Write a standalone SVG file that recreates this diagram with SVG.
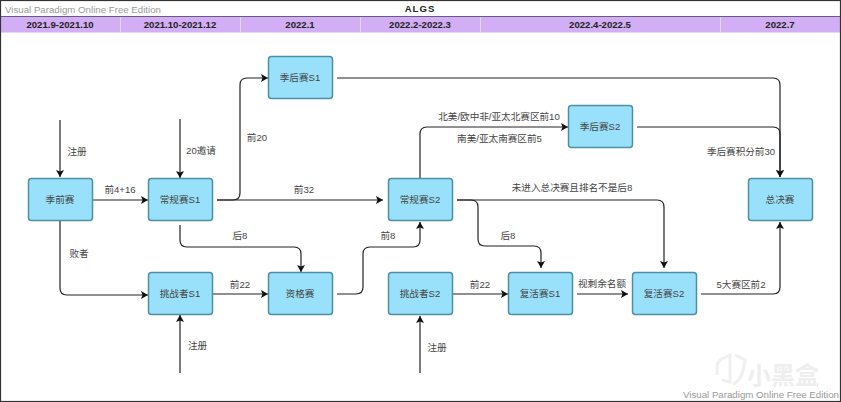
<svg xmlns="http://www.w3.org/2000/svg" width="841" height="402" viewBox="0 0 841 402">
<style>
text{font-family:"Liberation Sans","Noto Sans CJK SC",sans-serif;font-size:9.6px;fill:#444;text-anchor:middle}
.h{font-weight:bold;fill:#222}
.wm{fill:#999;text-anchor:start;font-size:9.7px}
.n{fill:#99e1fa;stroke:#4f8ea6;stroke-width:1.5}
.c{fill:none;stroke:#222;stroke-width:1.2}
.d{stroke:#e6d6fa;stroke-width:1}
</style>
<defs>
<marker id="a" markerWidth="8" markerHeight="8" refX="7" refY="4" orient="auto" markerUnits="userSpaceOnUse"><path d="M0 0L7 4L0 8L1.500 4Z" fill="#111"/></marker>
</defs>
<rect width="841" height="402" fill="#fff"/>
<g id="header">
<rect x="0" y="16.500" width="841" height="16" fill="#d2aef5"/>
<line x1="0" y1="16.500" x2="841" y2="16.500" stroke="#6a5a80" stroke-width="1"/>
<line class="d" x1="120.500" y1="17" x2="120.500" y2="32"/>
<line class="d" x1="240.500" y1="17" x2="240.500" y2="32"/>
<line class="d" x1="360.500" y1="17" x2="360.500" y2="32"/>
<line class="d" x1="480.500" y1="17" x2="480.500" y2="32"/>
<line class="d" x1="720.500" y1="17" x2="720.500" y2="32"/>
<text class="h" x="420" y="11.500" letter-spacing="1">ALGS</text>
<text class="h" x="60" y="27.500">2021.9-2021.10</text>
<text class="h" x="180" y="27.500">2021.10-2021.12</text>
<text class="h" x="300" y="27.500">2022.1</text>
<text class="h" x="420" y="27.500">2022.2-2022.3</text>
<text class="h" x="600" y="27.500">2022.4-2022.5</text>
<text class="h" x="780" y="27.500">2022.7</text>
<text class="wm" x="5" y="13">Visual Paradigm Online Free Edition</text>
</g>
<g id="connectors">
<path class="c" marker-end="url(#a)" d="M60 120V177"/>
<path class="c" marker-end="url(#a)" d="M180 119V178"/>
<path class="c" marker-end="url(#a)" d="M93 200H148"/>
<path class="c" marker-end="url(#a)" d="M217 200H233Q240 200 240 193V85Q240 78 247 78H268"/>
<path class="c" marker-end="url(#a)" d="M217 200H383"/>
<path class="c" marker-end="url(#a)" d="M337 78H773Q780 78 780 85V177"/>
<path class="c" marker-end="url(#a)" d="M637 127H773Q780 127 780 134V177"/>
<path class="c" marker-end="url(#a)" d="M420 178V134Q420 127 427 127H568"/>
<path class="c" marker-end="url(#a)" d="M180 225V240Q180 247 187 247H294Q301 247 301 254V272"/>
<path class="c" marker-end="url(#a)" d="M60 221V288Q60 295 67 295H148"/>
<path class="c" marker-end="url(#a)" d="M213 294H268"/>
<path class="c" marker-end="url(#a)" d="M180 373V315"/>
<path class="c" marker-end="url(#a)" d="M337 294H356Q363 294 363 287V254Q363 247 370 247H413Q420 247 420 240V222"/>
<path class="c" marker-end="url(#a)" d="M420 373V316"/>
<path class="c" marker-end="url(#a)" d="M453 294H508"/>
<path class="c" marker-end="url(#a)" d="M577 294H628"/>
<path class="c" marker-end="url(#a)" d="M457 200H471Q478 200 478 207V239Q478 246 485 246H534Q541 246 541 253V268"/>
<path class="c" marker-end="url(#a)" d="M457 200H657Q664 200 664 207V268"/>
<path class="c" marker-end="url(#a)" d="M701 294H773Q780 294 780 287V222"/>
</g>
<g id="labels">
<text x="77" y="154.500">注册</text>
<text x="201" y="154">20邀请</text>
<text x="257" y="141">前20</text>
<text x="120" y="193">前4+16</text>
<text x="304" y="193">前32</text>
<text x="240" y="239">后8</text>
<text x="388" y="239">前8</text>
<text x="79" y="257">败者</text>
<text x="240" y="288">前22</text>
<text x="197.500" y="349">注册</text>
<text x="437" y="351">注册</text>
<text x="480" y="288">前22</text>
<text x="602" y="287">视剩余名额</text>
<text x="741" y="288">5大赛区前2</text>
<text x="508" y="239">后8</text>
<text x="572" y="191">未进入总决赛且排名不是后8</text>
<text x="499" y="120">北美/欧中非/亚太北赛区前10</text>
<text x="499.500" y="142">南美/亚太南赛区前5</text>
<text x="741" y="154.500">季后赛积分前30</text>
</g>
<g id="n1"><rect class="n" x="268.500" y="56.500" width="64" height="42" rx="3"/><text x="300" y="81">季后赛S1</text></g>
<g id="n2"><rect class="n" x="568.500" y="105.500" width="64" height="42" rx="3"/><text x="600" y="130">季后赛S2</text></g>
<g id="n3"><rect class="n" x="28.500" y="178.500" width="64" height="42" rx="3"/><text x="60" y="203">季前赛</text></g>
<g id="n4"><rect class="n" x="148.500" y="178.500" width="64" height="42" rx="3"/><text x="180" y="203">常规赛S1</text></g>
<g id="n5"><rect class="n" x="388.500" y="178.500" width="64" height="42" rx="3"/><text x="420" y="203">常规赛S2</text></g>
<g id="n6"><rect class="n" x="748.500" y="178.500" width="64" height="42" rx="3"/><text x="780" y="203">总决赛</text></g>
<g id="n7"><rect class="n" x="148.500" y="272.500" width="64" height="42" rx="3"/><text x="180" y="297">挑战者S1</text></g>
<g id="n8"><rect class="n" x="268.500" y="272.500" width="64" height="42" rx="3"/><text x="300" y="297">资格赛</text></g>
<g id="n9"><rect class="n" x="388.500" y="272.500" width="64" height="42" rx="3"/><text x="420" y="297">挑战者S2</text></g>
<g id="n10"><rect class="n" x="508.500" y="272.500" width="64" height="42" rx="3"/><text x="540" y="297">复活赛S1</text></g>
<g id="n11"><rect class="n" x="632.500" y="272.500" width="64" height="42" rx="3"/><text x="664" y="297">复活赛S2</text></g>
<g id="watermark">
<path d="M717 375L717 367Q717 362 722 359L730 355V382L722 380M735 355L745 360Q743 380 733 384" fill="none" stroke="#f0f0f0" stroke-width="3"/>
<text x="783" y="384" style="font-size:24px;fill:#eeeeee;font-weight:bold">小黑盒</text>
<text class="wm" x="683" y="398">Visual Paradigm Online Free Edition</text>
</g>
<rect x="0.500" y="0.500" width="840" height="401" fill="none" stroke="#333" stroke-width="1.2"/>
</svg>
